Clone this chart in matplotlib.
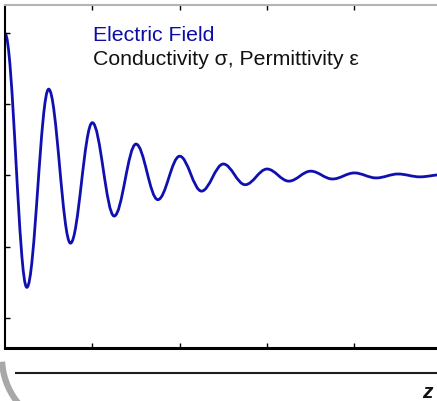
import matplotlib
matplotlib.use("Agg")
import matplotlib.pyplot as plt
from matplotlib.path import Path
from matplotlib.patches import PathPatch, Arc

# extrema of the damped wave (z position, field value)
z_ext = [0.0, 0.25, 0.5, 0.75, 1.0, 1.25, 1.5, 1.75, 2.0, 2.25, 2.5,
         2.75, 3.0, 3.25, 3.5, 3.75, 4.0, 4.25, 4.5, 4.75, 5.0]
field_ext = [1.99, -1.57, 1.21, -0.95, 0.74, -0.57, 0.44, -0.34, 0.27, -0.22, 0.16,
             -0.13, 0.09, -0.08, 0.06, -0.05, 0.035, -0.035, 0.02, -0.02, 0.01]

x_ticks = [1, 2, 3, 4]
y_ticks = [-2, -1, 0, 1, 2]

W, H = 437, 401
fig = plt.figure(figsize=(W / 100, H / 100), dpi=100)

# background layer in pixel coordinates for the decorations under the plot
bg = fig.add_axes([0, 0, 1, 1], zorder=0)
bg.set_xlim(0, W)
bg.set_ylim(H, 0)
bg.axis("off")
bg.add_patch(Arc((73, 358), 142, 142, theta1=110, theta2=177,
                 ec="#a8a8a8", lw=4.5, capstyle="butt"))
bg.plot([15, W], [373, 373], color="#1e1e1e", lw=1.5, solid_capstyle="butt")
bg.text(422, 398, "z", fontsize=15, fontweight="bold", fontstyle="italic",
        family="Liberation Sans", color="#111111", va="baseline", ha="left")

ax = fig.add_axes([5 / W, 53 / H, 436.7 / W, 343 / H], zorder=1)
ax.set_facecolor("white")

# smooth half-waves between extrema (cubic bezier, flat at each extremum)
k = 0.3634
verts = [(z_ext[0], field_ext[0])]
codes = [Path.MOVETO]
for i in range(len(z_ext) - 1):
    d = z_ext[i + 1] - z_ext[i]
    verts += [(z_ext[i] + k * d, field_ext[i]),
              (z_ext[i + 1] - k * d, field_ext[i + 1]),
              (z_ext[i + 1], field_ext[i + 1])]
    codes += [Path.CURVE4] * 3
ax.add_patch(PathPatch(Path(verts, codes), fill=False, ec="#1010b0", lw=2.0,
                       capstyle="round", joinstyle="round"))

ax.set_xlim(0, 5)
ax.set_ylim(-2.42, 2.39)
ax.set_xticks(x_ticks)
ax.set_yticks(y_ticks)
ax.tick_params(direction="in", length=3.5, width=1, top=True, right=True,
               labelbottom=False, labelleft=False, color="black")
ax.spines["bottom"].set_linewidth(2.2)
ax.spines["left"].set_linewidth(1.5)
ax.spines["top"].set_color("#b4b4b4")
ax.spines["top"].set_linewidth(1.5)

fig.text(93 / W, 1 - 41 / H, "Electric Field", fontsize=15.3, color="#0c0ca8",
         family="Liberation Sans", va="baseline", ha="left")
fig.text(93 / W, 1 - 65 / H, "Conductivity σ, Permittivity ε", fontsize=15.3,
         color="#111111", family="Liberation Sans", va="baseline", ha="left")

fig.savefig("out.png", dpi=100)
